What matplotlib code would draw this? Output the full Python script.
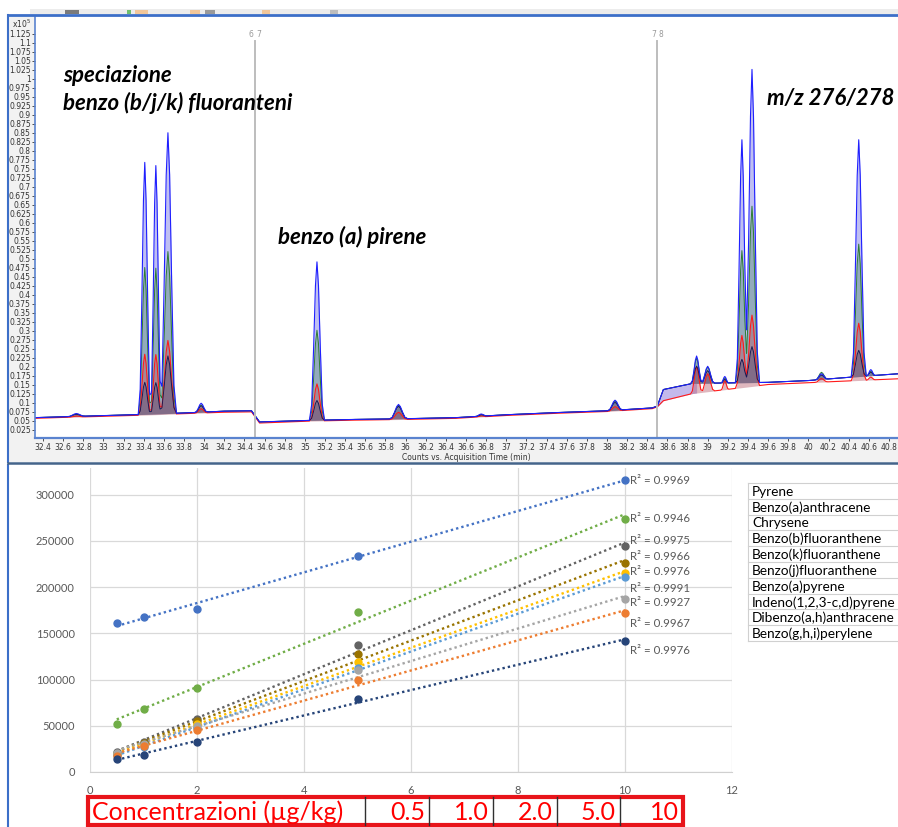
import numpy as np
import matplotlib.pyplot as plt
from matplotlib.patches import Rectangle

W, H = 898, 827

# ---------------- chromatogram (counts x10^5) ----------------
base_t = [32.32, 32.8, 33.3, 33.9, 34.2, 34.47, 34.55, 35.0, 35.5, 36.0, 36.5,
          37.0, 37.5, 38.0, 38.45, 38.5, 38.56, 38.85, 39.6, 40.0, 40.4, 40.9]
base_upper = [0.058, 0.062, 0.066, 0.072, 0.076, 0.077, 0.046, 0.050, 0.053, 0.055, 0.058,
              0.066, 0.072, 0.077, 0.085, 0.090, 0.136, 0.153, 0.156, 0.161, 0.170, 0.180]
base_red = [0.056, 0.060, 0.064, 0.070, 0.073, 0.074, 0.043, 0.048, 0.051, 0.053, 0.056,
            0.064, 0.070, 0.075, 0.083, 0.088, 0.105, 0.125, 0.150, 0.155, 0.160, 0.166]

peak_t = [32.73, 33.41, 33.52, 33.64, 33.97, 35.12, 35.93, 36.75, 38.08,
          38.89, 39.00, 39.17, 39.34, 39.44, 40.13, 40.50, 40.62]
peak_w = [0.09, 0.065, 0.06, 0.085, 0.065, 0.075, 0.09, 0.06, 0.075,
          0.06, 0.07, 0.04, 0.065, 0.075, 0.065, 0.075, 0.045]
peak_blue = [0.008, 0.70, 0.69, 0.78, 0.025, 0.44, 0.040, 0.006, 0.028,
             0.076, 0.047, 0.018, 0.675, 0.87, 0.016, 0.658, 0.017]
peak_green = [0.006, 0.408, 0.405, 0.45, 0.020, 0.25, 0.037, 0.005, 0.025,
              0.070, 0.045, 0.014, 0.367, 0.49, 0.020, 0.368, 0.012]
peak_red = [0.003, 0.169, 0.167, 0.205, 0.012, 0.103, 0.020, 0.003, 0.012,
            0.073, 0.050, 0.025, 0.145, 0.198, 0.010, 0.159, 0.008]
peak_dark = [0.006, 0.089, 0.087, 0.16, 0.018, 0.055, 0.035, 0.004, 0.022,
             0.048, 0.035, 0.010, 0.065, 0.10, 0.012, 0.073, 0.010]

segment_t = [34.5, 38.5]
segment_labels = [("6", "7"), ("7", "8")]

# ---------------- calibration curves ----------------
conc = [0.5, 1, 2, 5, 10]
series = [
    ("Pyrene", "#4472C4", [161000, 168000, 176500, 234000, 316000], "0.9969"),
    ("Benzo(j)fluoranthene", "#70AD47", [52000, 68700, 91000, 173000, 274000], "0.9946"),
    ("Dibenzo(a,h)anthracene", "#636363", [21700, 32500, 57000, 137500, 245000], "0.9975"),
    ("Benzo(g,h,i)perylene", "#997300", [20000, 31000, 55000, 128000, 226000], "0.9966"),
    ("Benzo(b)fluoranthene", "#FFC000", [19000, 29000, 52000, 119000, 215000], "0.9976"),
    ("Benzo(k)fluoranthene", "#5B9BD5", [18000, 27000, 48000, 113000, 211000], "0.9991"),
    ("Chrysene", "#A5A5A5", [21000, 30000, 50000, 110000, 187000], "0.9927"),
    ("Benzo(a)anthracene", "#ED7D31", [17000, 28000, 45000, 100000, 172000], "0.9967"),
    ("Benzo(a)pyrene", "#264478", [14000, 18000, 32500, 79000, 142000], "0.9976"),
]
r2_label_y = [316000, 274000, 250000, 233000, 216500, 199000, 183000, 161000, 131000]

legend_names = ["Pyrene", "Benzo(a)anthracene", "Chrysene", "Benzo(b)fluoranthene",
                "Benzo(k)fluoranthene", "Benzo(j)fluoranthene", "Benzo(a)pyrene",
                "Indeno(1,2,3-c,d)pyrene", "Dibenzo(a,h)anthracene", "Benzo(g,h,i)perylene"]

conc_header = "Concentrazioni (µg/kg)"
conc_labels = ["0.5", "1.0", "2.0", "5.0", "10"]


def px_axes(fig, x0, y0, x1, y1, **kw):
    return fig.add_axes([x0 / W, 1 - y1 / H, (x1 - x0) / W, (y1 - y0) / H], **kw)


shape_dx = np.array([-1, -0.7, -0.45, -0.2, 0, 0.2, 0.45, 0.7, 1])
shape_h = np.array([0, 0.1, 0.45, 0.85, 1, 0.85, 0.45, 0.1, 0])


def make_grid():
    pts = list(base_t)
    for c, w in zip(peak_t, peak_w):
        pts += list(c + shape_dx * w)
    return np.unique(pts)


def trace(grid, base, heights):
    y = np.interp(grid, base_t, base)
    for c, w, h in zip(peak_t, peak_w, heights):
        y = y + np.interp(grid, c + shape_dx * w, h * shape_h, left=0, right=0)
    return y


fig = plt.figure(figsize=(W / 100, H / 100), dpi=100)

# background layer
bg = px_axes(fig, 0, 0, W, H)
bg.set_xlim(0, W)
bg.set_ylim(H, 0)
bg.axis("off")
bg.add_patch(Rectangle((8, 15), 27, 447, color="#f2f2f2", lw=0))
bg.add_patch(Rectangle((8, 439), W - 8, 23, color="#f2f2f2", lw=0))
bg.add_patch(Rectangle((30, 9), W - 30, 5, color="#ececec", lw=0))
for x0, wd, col in [(65, 14, "#7a7a7a"), (127, 4, "#6fbf6f"), (135, 13, "#f2c79a"),
                    (190, 10, "#f2c79a"), (205, 10, "#9a9a9a"), (262, 8, "#f2c79a"),
                    (330, 8, "#bdbdbd")]:
    bg.add_patch(Rectangle((x0, 10), wd, 4, color=col, lw=0))

# ---------------- top: chromatogram ----------------
ax = px_axes(fig, 35, 17, W, 438.5)
ax.set_xlim(32.32, 40.89)
ax.set_ylim(0, 1.171)

grid = make_grid()
red_base = np.interp(grid, base_t, base_red)
up_base = np.interp(grid, base_t, base_upper)
y_blue = trace(grid, base_upper, peak_blue)
y_green = trace(grid, base_upper, peak_green)
y_red = trace(grid, base_red, peak_red)
y_dark = trace(grid, base_upper, peak_dark)

wedge = (grid >= 38.5) & (grid <= 38.9)
ax.fill_between(grid, red_base, up_base, where=wedge, color="#b4a8e8", alpha=0.8, lw=0)
ax.fill_between(grid, up_base, y_blue, color="#b4b4f0", alpha=0.85, lw=0)
ax.fill_between(grid, up_base, y_green, color="#6f9a90", alpha=0.55, lw=0)
ax.fill_between(grid, red_base, y_red, color="#b86070", alpha=0.45, lw=0)
ax.fill_between(grid, up_base, y_dark, color="#5a4a72", alpha=0.45, lw=0)
ax.plot(grid, y_green, color="#2e7d32", lw=0.7)
ax.plot(grid, y_red, color="#ff1a1a", lw=0.8)
ax.plot(grid, y_dark, color="#1a1a55", lw=0.7)
ax.plot(grid, y_blue, color="#1f1fff", lw=0.8)

for t, (a, b) in zip(segment_t, segment_labels):
    ax.axvline(t, ymin=0, ymax=1.105 / 1.171, color="#bdbdbd", lw=1.4)
    ax.text(t - 0.015, 1.122, a, ha="right", va="center", fontsize=5.5, color="#9a9a9a")
    ax.text(t + 0.015, 1.122, b, ha="left", va="center", fontsize=5.5, color="#9a9a9a")

ann = dict(family="Lato", weight="bold", style="italic", fontsize=16, color="black")
fig.text(63 / W, 1 - 82 / H, "speciazione", va="baseline", **ann)
fig.text(63 / W, 1 - 110 / H, "benzo (b/j/k) fluoranteni", va="baseline", **ann)
fig.text(278 / W, 1 - 244 / H, "benzo (a) pirene", va="baseline", **ann)
fig.text(767 / W, 1 - 105 / H, "m/z 276/278", va="baseline", **ann)

yt = np.arange(1, 46) * 0.025
ax.set_yticks(yt)
ax.set_yticklabels(["%g" % round(v, 3) for v in yt])
xt = np.arange(32.4, 40.81, 0.2)
ax.set_xticks(xt)
ax.set_xticklabels(["%g" % round(v, 1) for v in xt])
ax.tick_params(axis="both", labelsize=5.5, length=2, width=0.6, pad=1,
               colors="#333333", labelcolor="#333333")
ax.set_xlabel("Counts vs. Acquisition Time (min)", fontsize=5.5, color="#333333", labelpad=1)
for s in ["top", "right"]:
    ax.spines[s].set_visible(False)
ax.spines["left"].set_color("#5a83cf")
ax.spines["left"].set_linewidth(1.2)
ax.spines["bottom"].set_color("#5a83cf")
ax.spines["bottom"].set_linewidth(1.6)
fig.text(12 / W, 1 - 24 / H, "x10$^{5}$", fontsize=5.5, color="#333333", va="center")

# ---------------- bottom: calibration ----------------
ax2 = px_axes(fig, 90, 468, 732, 772)
ax2.set_xlim(0, 12)
ax2.set_ylim(0, 329000)
ax2.set_xticks(range(0, 13, 2))
ax2.set_yticks(range(0, 300001, 50000))
ax2.grid(True, color="#d9d9d9", lw=0.9)
ax2.set_axisbelow(True)
for s in ["top", "right", "left"]:
    ax2.spines[s].set_visible(False)
ax2.spines["bottom"].set_color("#d0d0d0")
ax2.tick_params(length=0, labelsize=8, labelcolor="#595959")
ax2.tick_params(axis="y", pad=11)
ax2.tick_params(axis="x", pad=9)
for lab in ax2.get_xticklabels() + ax2.get_yticklabels():
    lab.set_family("Lato")

for (name, col, vals, r2), ly in zip(series, r2_label_y):
    k, b = np.polyfit(conc, vals, 1)
    xs = np.array([conc[0], conc[-1]])
    ax2.plot(xs, k * xs + b, color=col, lw=1.7, ls=(0, (1.0, 1.3)), zorder=2)
    ax2.plot(conc, vals, "o", color=col, ms=5, zorder=3)
    ax2.text(10.1, ly, "R² = " + r2, ha="left", va="center", fontsize=8.3,
             family="Lato", color="#595959")

# foreground layer
fg = px_axes(fig, 0, 0, W, H, zorder=10)
fg.set_xlim(0, W)
fg.set_ylim(H, 0)
fg.axis("off")
fg.patch.set_alpha(0)
fg.plot([8, W], [15, 15], color="#3c6fc8", lw=2)
fg.plot([8, 8], [15, 462], color="#3c6fc8", lw=1.5)
fg.plot([8, 8], [465, H], color="#3c6fc8", lw=1.5)
fg.plot([8, W], [463, 463], color="#44648a", lw=1.8)

# legend box
row_top, row_h = 483, 15.8
fg.plot([748, 748], [row_top, row_top + row_h * 10], color="#d0d0d0", lw=0.8)
for i in range(11):
    yy = row_top + i * row_h
    fg.plot([748, W], [yy, yy], color="#d0d0d0", lw=0.8)
for i, nm in enumerate(legend_names):
    fg.text(752, row_top + (i + 0.55) * row_h, nm, ha="left", va="center",
            fontsize=9.8, family="Lato", color="black")

# concentration table
tx0, tx1, ty0, ty1 = 88, 683, 797, 825
cells = [365, 429, 493, 557, 620]
for xc in cells:
    fg.plot([xc, xc], [ty0, ty1], color="#303030", lw=1)
fg.add_patch(Rectangle((tx0, ty0), tx1 - tx0, ty1 - ty0, fill=False,
                       edgecolor="#e8141a", lw=3))
fg.text(92, (ty0 + ty1) / 2 + 1, conc_header, ha="left", va="center",
        fontsize=18, family="Lato", color="#ff0000")
for xr, lab in zip(cells[1:] + [tx1], conc_labels):
    fg.text(xr - 4, (ty0 + ty1) / 2 + 1, lab, ha="right", va="center",
            fontsize=18, family="Lato", color="#ff0000")

fig.savefig("out.png", dpi=100)
